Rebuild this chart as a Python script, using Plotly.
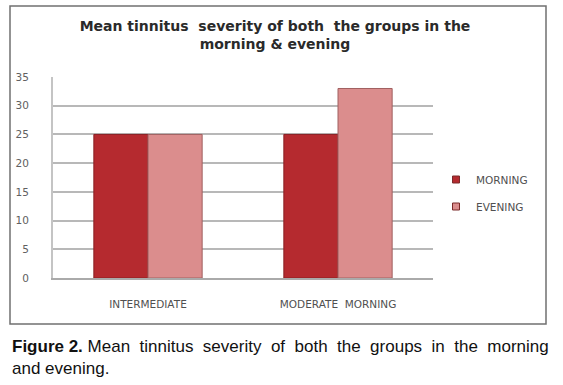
import plotly.graph_objects as go

categories = ["INTERMEDIATE", "MODERATE  MORNING"]
morning = [25, 25]
evening = [25, 33]
y_ticks = [0, 5, 10, 15, 20, 25, 30, 35]
series_names = ["MORNING", "EVENING"]

W, H = 563, 385
L, R, T, B = 53, 433, 77, 278
PW, PH = R - L, B - T

def px_x(x):
    return (x - L) / PW

def px_y(y):
    return (B - y) / PH

MORNING_COL = "#b52a2f"
EVENING_COL = "#db8d8d"
SANS = "DejaVu Sans, Verdana, sans-serif"

fig = go.Figure()
fig.add_trace(go.Bar(name=series_names[0], x=categories, y=morning, showlegend=False,
                     marker=dict(color=MORNING_COL, line=dict(color="#8a1f23", width=1))))
fig.add_trace(go.Bar(name=series_names[1], x=categories, y=evening, showlegend=False,
                     marker=dict(color=EVENING_COL, line=dict(color="#a06060", width=1))))
# legend entries with small square keys
for name, col, grp in [(series_names[0], MORNING_COL, "m"), (series_names[1], EVENING_COL, "e")]:
    fig.add_trace(go.Scatter(name=name, x=[None], y=[None], mode="markers", legendgroup=grp,
                             marker=dict(symbol="square", size=7, color=col,
                                         line=dict(color="#7a2a2a", width=1))))

fig.update_layout(
    width=W, height=H,
    margin=dict(l=L, r=W - R, t=T, b=H - B, pad=0),
    paper_bgcolor="white", plot_bgcolor="white",
    barmode="group", bargap=0.43, bargroupgap=0,
    font=dict(family=SANS, color="#555"),
    showlegend=True,
    legend=dict(x=px_x(436), y=px_y(165), xanchor="left", yanchor="top",
                font=dict(size=10.5, color="#505050", family=SANS), itemwidth=30,
                tracegroupgap=8, bgcolor="rgba(0,0,0,0)"),
    title=dict(text="<b>Mean tinnitus  severity of both  the groups in the<br>morning & evening</b>",
               x=275 / W, xanchor="center", y=1 - 31 / H, yanchor="top",
               font=dict(size=14, color="#2a2a2a", family=SANS)),
    xaxis=dict(showline=True, linecolor="#aaa", linewidth=2, ticks="", showgrid=False,
               tickfont=dict(size=10.5, color="#505050", family=SANS), ticklabelstandoff=15),
    yaxis=dict(range=[0, 35], tickvals=y_ticks, showline=True, linecolor="#c4c4c4", linewidth=2,
               showgrid=True, gridcolor="#b8b8b8", gridwidth=2, ticks="",
               tickfont=dict(size=10.5, color="#606060", family=SANS), ticklabelstandoff=20,
               zeroline=False),
)

# outer frame around chart
fig.add_shape(type="rect", xref="paper", yref="paper",
              x0=px_x(10), x1=px_x(546), y0=px_y(324), y1=px_y(6),
              line=dict(color="#707070", width=1.5), fillcolor="rgba(0,0,0,0)", layer="below")

# caption
fig.add_annotation(xref="paper", yref="paper", x=px_x(10), y=px_y(335),
                   xanchor="left", yanchor="top", align="left", showarrow=False,
                   text="<b>Figure 2.</b> Mean  tinnitus  severity  of  both  the  groups  in  the  morning<br>and evening.",
                   font=dict(size=17, color="#111", family="Liberation Sans, Arial, sans-serif"))

fig.write_html("out.html")
